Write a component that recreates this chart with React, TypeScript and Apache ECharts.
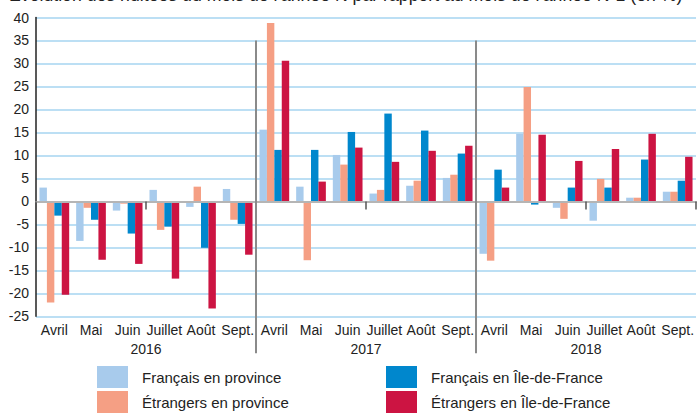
import React, { useEffect, useRef } from "react";
import * as echarts from "echarts";

const months = ["Avril", "Mai", "Juin", "Juillet", "Août", "Sept."];
const years = ["2016", "2017", "2018"];
const categories = years.flatMap((y) => months.map((m) => `${y}|${m}`));

const seriesNames = [
  "Français en province",
  "Étrangers en province",
  "Français en Île-de-France",
  "Étrangers en Île-de-France",
];
const colors = ["#a8cbec", "#f59f84", "#0087cd", "#cc1442"];

const francaisProvince = [3.0, -8.6, -2.0, 2.5, -1.2, 2.7, 15.6, 3.2, 10.1, 1.7, 3.4, 5.1, -11.4, 14.7, -1.4, -4.2, 0.8, 2.1];
const etrangersProvince = [-22.0, -1.4, -0.5, -6.2, 3.2, -4.0, 38.8, -12.8, 8.0, 2.5, 4.5, 5.8, -12.9, 24.9, -3.8, 4.9, 0.8, 2.1];
const francaisIdf = [-3.1, -4.0, -7.0, -5.5, -10.1, -4.9, 11.2, 11.2, 15.1, 19.1, 15.4, 10.4, 6.9, -0.7, 3.0, 3.0, 9.1, 4.5];
const etrangersIdf = [-20.3, -12.7, -13.6, -16.8, -23.3, -11.6, 30.6, 4.3, 11.7, 8.6, 11.0, 12.1, 3.0, 14.5, 8.8, 11.4, 14.7, 9.7];
const seriesValues = [francaisProvince, etrangersProvince, francaisIdf, etrangersIdf];

const titleText = "Évolution des nuitées du mois de l'année N par rapport au mois de l'année N-1 (en %)";
const FONT = "'Liberation Sans', Arial, sans-serif";

export default function App() {
  const ref = useRef<HTMLDivElement>(null);
  useEffect(() => {
    if (!ref.current) return;
    const chart = echarts.init(ref.current, null, { renderer: "svg" });
    const legendBase = {
      orient: "vertical",
      top: 366,
      padding: 0,
      itemWidth: 31,
      itemHeight: 22,
      itemGap: 3,
      icon: "rect",
      selectedMode: false,
      textStyle: { fontFamily: FONT, fontSize: 15, color: "#222", padding: [0, 0, 0, 9] },
    };
    const option: any = {
      animation: false,
      textStyle: { fontFamily: FONT },
      title: {
        text: titleText,
        left: 9,
        top: -14,
        padding: 0,
        textStyle: { fontFamily: FONT, fontSize: 17.7, fontWeight: "normal", color: "#222" },
      },
      legend: [
        { ...legendBase, left: 97, data: [seriesNames[0], seriesNames[1]] },
        { ...legendBase, left: 386, data: [seriesNames[2], seriesNames[3]] },
      ],
      grid: { left: 36, right: 0, top: 17.5, bottom: 97.7, containLabel: false },
      xAxis: [
        {
          type: "category",
          data: categories,
          axisLine: { show: true, onZero: true, lineStyle: { color: "#b5b5b5", width: 2 } },
          axisTick: { show: true, length: 8, lineStyle: { color: "#555", width: 1.5 } },
          axisLabel: { show: false },
          splitLine: { show: false },
          z: 5,
        },
        {
          type: "category",
          data: categories,
          position: "bottom",
          axisLine: { show: false, onZero: false },
          axisTick: { show: false },
          axisLabel: {
            show: true,
            interval: 0,
            margin: 7,
            fontFamily: FONT,
            fontSize: 14,
            color: "#222",
            formatter: (v: string) => v.split("|")[1],
          },
        },
        {
          type: "category",
          data: years,
          position: "bottom",
          axisLine: { show: false, onZero: false },
          axisTick: { show: false },
          axisLabel: { show: true, interval: 0, margin: 26, fontFamily: FONT, fontSize: 14, color: "#222" },
        },
      ],
      yAxis: {
        type: "value",
        min: -25,
        max: 40,
        interval: 5,
        axisLine: { show: true, lineStyle: { color: "#222", width: 1.5 } },
        axisTick: { show: false },
        axisLabel: { margin: 7, fontFamily: FONT, fontSize: 14, color: "#222" },
        splitLine: { show: true, lineStyle: { color: "#a6d5f0", width: 1.5 } },
      },
      series: seriesNames.map((name, i) => ({
        name,
        type: "bar",
        xAxisIndex: 0,
        yAxisIndex: 0,
        data: seriesValues[i],
        barGap: "0%",
        barCategoryGap: "19%",
        itemStyle: { color: colors[i] },
      })),
    };
    chart.setOption(option);

    const yTop = chart.convertToPixel({ yAxisIndex: 0 }, 35) as number;
    const yBot = (chart.convertToPixel({ yAxisIndex: 0 }, -25) as number) + 37;
    const xs = [6, 12].map(
      (i) =>
        ((chart.convertToPixel({ xAxisIndex: 0 }, categories[i - 1]) as number) +
          (chart.convertToPixel({ xAxisIndex: 0 }, categories[i]) as number)) /
        2
    );
    chart.setOption({
      graphic: xs.map((x) => ({
        type: "line",
        shape: { x1: x, y1: yTop, x2: x, y2: yBot },
        style: { stroke: "#8a8a8a", lineWidth: 2 },
        z: 10,
      })),
    });

    return () => chart.dispose();
  }, []);
  return (
    <div
      ref={ref}
      style={{ position: "fixed", left: 0, top: 0, width: 697, height: 414, background: "#fff" }}
    />
  );
}
